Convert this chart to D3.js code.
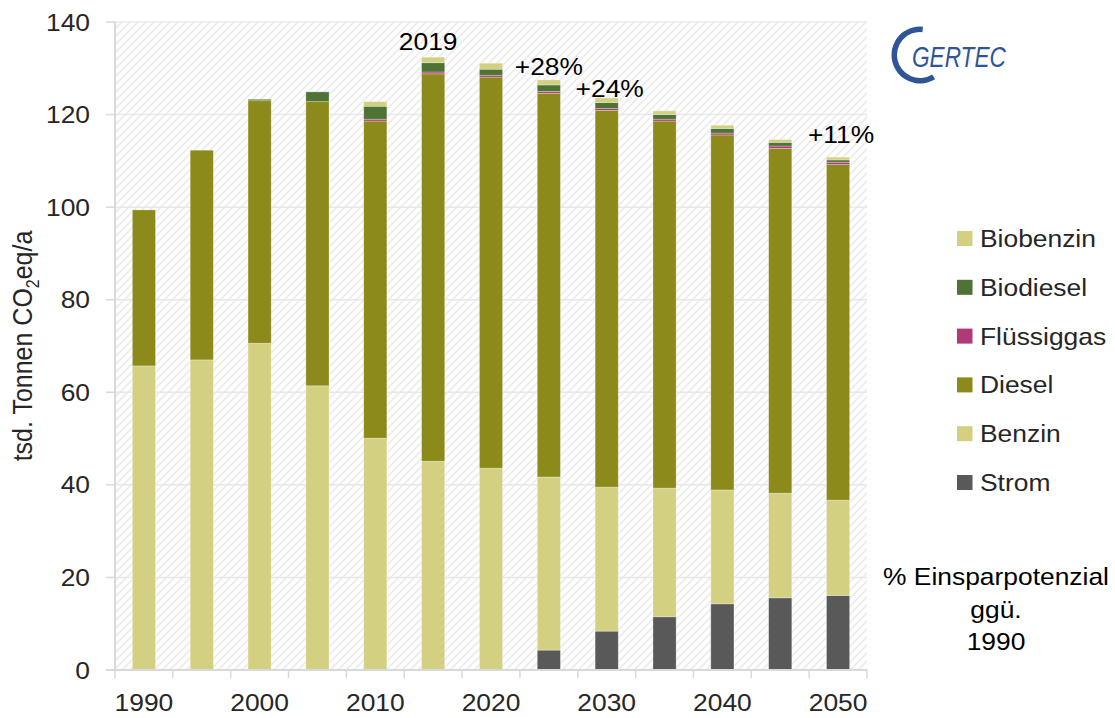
<!DOCTYPE html>
<html>
<head>
<meta charset="utf-8">
<script src="https://cdn.jsdelivr.net/npm/d3@7"></script>
<style>
  html, body { margin: 0; padding: 0; background: #fff; }
  svg { display: block; font-family: "Liberation Sans", Arial, sans-serif; }
</style>
</head>
<body>
<svg id="chart" width="1115" height="718"></svg>
<script>
// Emissions by fuel, tsd. Tonnen CO2eq per year
const years = [1990, 1995, 2000, 2005, 2010, 2015, 2020, 2025, 2030, 2035, 2040, 2045, 2050];
const strom       = [0, 0, 0, 0, 0, 0, 0, 4.3, 8.4, 11.5, 14.3, 15.6, 16.1];
const benzin      = [65.7, 67.0, 70.6, 61.4, 50.1, 45.1, 43.6, 37.4, 31.1, 27.8, 24.6, 22.6, 20.6];
const diesel      = [33.7, 45.3, 52.4, 61.4, 68.5, 83.7, 84.5, 82.9, 81.4, 79.3, 76.7, 74.5, 72.5];
const fluessiggas = [0, 0, 0, 0, 0.4, 0.4, 0.4, 0.4, 0.4, 0.4, 0.4, 0.5, 0.5];
const biodiesel   = [0, 0, 0.3, 2.1, 2.8, 2.0, 1.3, 1.4, 1.3, 1.0, 1.0, 0.8, 0.5];
const biobenzin   = [0, 0, 0, 0, 1.0, 1.2, 1.3, 1.1, 1.0, 0.8, 0.7, 0.6, 0.6];

const seriesNames  = ["Strom", "Benzin", "Diesel", "Flüssiggas", "Biodiesel", "Biobenzin"];
const seriesColors = ["#595959", "#d3d082", "#8c8a1b", "#b03a78", "#4f7235", "#d3d082"];
const yTicks = [0, 20, 40, 60, 80, 100, 120, 140];
const xLabelYears = [1990, 2000, 2010, 2020, 2030, 2040, 2050];

// Text above selected bars: label, bar year, level in data units
const noteTexts  = ["2019", "+28%", "+24%", "+11%"];
const noteYears  = [2015, 2025, 2030, 2050];
const noteLevels = [133.9, 128.5, 123.9, 113.8];
const noteShift  = [-5, 0, 3, 3];

const sideNote = ["% Einsparpotenzial", "ggü.", "1990"];

const rows = years.map((y, i) => ({
  year: y,
  "Strom": strom[i], "Benzin": benzin[i], "Diesel": diesel[i],
  "Flüssiggas": fluessiggas[i], "Biodiesel": biodiesel[i], "Biobenzin": biobenzin[i]
}));

const svg = d3.select("#chart");
const plotLeft = 115, plotRight = 867, plotTop = 22, plotBottom = 670;
const SX = 1.1; // horizontal glyph stretch

const x = d3.scaleBand().domain(years).range([plotLeft, plotRight]).paddingInner(0.6).paddingOuter(0.3);
const y = d3.scaleLinear().domain([0, 140]).range([plotBottom, plotTop]);
const color = d3.scaleOrdinal().domain(seriesNames).range(seriesColors);

function label(g, px, py, str, anchor, size, fill) {
  return g.append("text")
    .attr("transform", `translate(${px},${py}) scale(${SX},1)`)
    .attr("text-anchor", anchor)
    .attr("font-size", size)
    .attr("fill", fill)
    .text(str);
}

// hatched plot background
const defs = svg.append("defs");
const pat = defs.append("pattern").attr("id", "hatch")
  .attr("patternUnits", "userSpaceOnUse").attr("width", 8).attr("height", 8);
pat.append("rect").attr("width", 8).attr("height", 8).attr("fill", "#ffffff");
pat.append("path").attr("d", "M-2,2 L2,-2 M0,8 L8,0 M6,10 L10,6")
  .attr("stroke", "#ececec").attr("stroke-width", 1.6);

svg.append("rect").attr("x", plotLeft).attr("y", plotTop)
  .attr("width", plotRight - plotLeft).attr("height", plotBottom - plotTop).attr("fill", "url(#hatch)");

// gridlines
svg.append("g").selectAll("line").data(yTicks.filter(d => d > 0)).join("line")
  .attr("x1", plotLeft).attr("x2", plotRight)
  .attr("y1", d => y(d)).attr("y2", d => y(d))
  .attr("stroke", "#e8e8e8").attr("stroke-width", 1.5);

// stacked bars
const stack = d3.stack().keys(seriesNames)(rows);
svg.append("g").selectAll("g").data(stack).join("g")
  .attr("fill", d => color(d.key))
  .selectAll("rect").data(d => d).join("rect")
  .attr("x", d => x(d.data.year))
  .attr("width", x.bandwidth())
  .attr("y", d => y(d[1]))
  .attr("height", d => Math.max(0, y(d[0]) - y(d[1])))
  .attr("stroke", "rgba(255,255,255,0.35)").attr("stroke-width", 0.8);

// axes
const axisColor = "#d9d9d9";
svg.append("line").attr("x1", plotLeft).attr("x2", plotLeft).attr("y1", plotTop).attr("y2", plotBottom)
  .attr("stroke", axisColor).attr("stroke-width", 2);
svg.append("line").attr("x1", plotLeft - 9).attr("x2", plotRight).attr("y1", plotBottom).attr("y2", plotBottom)
  .attr("stroke", axisColor).attr("stroke-width", 2);

const yg = svg.append("g");
yTicks.forEach(t => {
  yg.append("line").attr("x1", plotLeft - 9).attr("x2", plotLeft).attr("y1", y(t)).attr("y2", y(t))
    .attr("stroke", axisColor).attr("stroke-width", 1.5);
  label(yg, 90, y(t) + 8.5, String(t), "end", 24, "#262626");
});

const step = x.step();
const xg = svg.append("g");
d3.range(years.length + 1).forEach(i => {
  const px = plotLeft + i * step;
  xg.append("line").attr("x1", px).attr("x2", px).attr("y1", plotBottom).attr("y2", plotBottom + 8)
    .attr("stroke", axisColor).attr("stroke-width", 1.5);
});
xLabelYears.forEach(yr => {
  label(xg, x(yr) + x.bandwidth() / 2, 711, String(yr), "middle", 24, "#262626");
});

// y axis title
const yt = svg.append("text")
  .attr("transform", `translate(32,346) rotate(-90) scale(1,${SX})`)
  .attr("text-anchor", "middle").attr("font-size", 25).attr("fill", "#262626");
yt.append("tspan").text("tsd. Tonnen CO");
yt.append("tspan").attr("font-size", 16).attr("dy", 6).text("2");
yt.append("tspan").attr("dy", -6).text("eq/a");

// notes above bars
noteTexts.forEach((t, i) => {
  label(svg, x(noteYears[i]) + x.bandwidth() / 2 + noteShift[i], y(noteLevels[i]), t, "middle", 24, "#000");
});

// legend (top of stack first)
const legend = svg.append("g");
seriesNames.slice().reverse().forEach((name, i) => {
  const cy = 238.5 + i * 48.8;
  legend.append("rect").attr("x", 957).attr("y", cy - 7.5).attr("width", 15.5).attr("height", 15)
    .attr("fill", color(name));
  label(legend, 980, cy + 8.5, name, "start", 24, "#262626");
});

// side note
sideNote.forEach((t, i) => {
  label(svg, 996, 585 + i * 32.5, t, "middle", 24, "#000");
});

// logo
const logo = svg.append("g").attr("transform", "translate(920,55)");
logo.append("path")
  .attr("d", d3.arc().innerRadius(23).outerRadius(28.5)
    .startAngle(148 * Math.PI / 180).endAngle(366 * Math.PI / 180)())
  .attr("fill", "#2f5596");
logo.append("text")
  .attr("transform", "translate(-8,12) scale(0.78,1)")
  .attr("font-size", 29).attr("font-style", "italic").attr("fill", "#2f5596")
  .text("GERTEC");
</script>
</body>
</html>
